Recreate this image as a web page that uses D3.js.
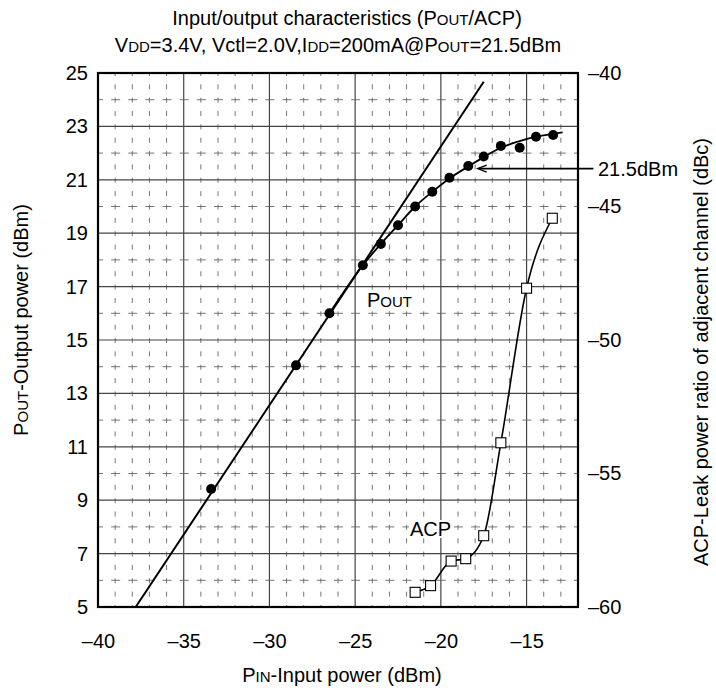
<!DOCTYPE html>
<html>
<head>
<meta charset="utf-8">
<script src="https://cdn.jsdelivr.net/npm/d3@7"></script>
<style>
  html, body { margin: 0; padding: 0; background: #fff; }
  svg { display: block; }
  text { font-family: "Liberation Sans", Arial, Helvetica, sans-serif; fill: #000; }
</style>
</head>
<body>
<svg id="chart" width="716" height="690"></svg>
<script>
// ---- data ----
const pinTicks = [-40, -35, -30, -25, -20, -15];
const poutTicks = [5, 7, 9, 11, 13, 15, 17, 19, 21, 23, 25];
const acpTicks = [-60, -55, -50, -45, -40];

// measured POUT points (PIN dBm -> POUT dBm)
const poutPin = [-33.4, -28.45, -26.5, -24.55, -23.5, -22.5, -21.5, -20.5, -19.5, -18.4, -17.5, -16.5, -15.4, -14.45, -13.45];
const poutValues = [9.42, 14.05, 16.0, 17.8, 18.6, 19.3, 20.0, 20.55, 21.08, 21.52, 21.87, 22.27, 22.2, 22.61, 22.68];

// fitted POUT curve
const poutFitPin = [-26.5, -24.55, -23.5, -22.5, -21.5, -20.5, -19.5, -18.4, -17.5, -16.5, -15.4, -14.45, -13.45, -12.9];
const poutFitValues = [16.0, 17.8, 18.6, 19.3, 20.0, 20.55, 21.05, 21.5, 21.85, 22.2, 22.45, 22.62, 22.72, 22.78];

// linear-gain reference line
const gainLinePin = [-37.8, -17.5];
const gainLinePout = [5, 24.67];

// measured ACP points (PIN dBm -> ACP dBc)
const acpPin = [-21.5, -20.6, -19.4, -18.55, -17.5, -16.5, -15.0, -13.5];
const acpValues = [-59.45, -59.2, -58.28, -58.19, -57.33, -53.85, -48.06, -45.44];

// 21.5 dBm annotation arrow
const arrowPin = [-11.1, -17.85];
const arrowPout = [21.42, 21.42];

// ---- layout ----
const L = 98, R = 578, T = 73, B = 607;
const svg = d3.select("#chart");
const x = d3.scaleLinear().domain([-40, -12]).range([L, R]);
const yL = d3.scaleLinear().domain([5, 25]).range([B, T]);
const yR = d3.scaleLinear().domain([-60, -40]).range([B, T]);
const dash = v => (v < 0 ? "\u2013" + Math.abs(v) : String(v));

// ---- grid ----
const grid = svg.append("g");
d3.range(-39, -12).forEach(v => {
  const solid = v % 5 === 0;
  grid.append("line")
    .attr("x1", x(v)).attr("x2", x(v)).attr("y1", T).attr("y2", B)
    .attr("stroke", solid ? "#444" : "#666")
    .attr("stroke-width", solid ? 1.2 : 0.9)
    .attr("stroke-dasharray", solid ? null : "5,8.35")
    .attr("stroke-dashoffset", solid ? null : 2);
});
d3.range(6, 25).forEach(v => {
  const solid = v % 2 === 1;
  grid.append("line")
    .attr("x1", L).attr("x2", R).attr("y1", yL(v)).attr("y2", yL(v))
    .attr("stroke", solid ? "#444" : "#666")
    .attr("stroke-width", solid ? 1.2 : 0.9)
    .attr("stroke-dasharray", solid ? null : "9,8.14")
    .attr("stroke-dashoffset", solid ? null : 4);
});

// ---- axes ----
const fs = 20;
const ax1 = svg.append("g").attr("transform", `translate(${L},0)`)
  .call(d3.axisLeft(yL).tickValues(poutTicks).tickSize(0).tickPadding(10).tickFormat(d3.format("d")));
const ax2 = svg.append("g").attr("transform", `translate(${R},0)`)
  .call(d3.axisRight(yR).tickValues(acpTicks).tickSize(0).tickPadding(10).tickFormat(dash));
const ax3 = svg.append("g").attr("transform", `translate(0,${B})`)
  .call(d3.axisBottom(x).tickValues(pinTicks).tickSize(0).tickPadding(27).tickFormat(dash));
[ax1, ax2, ax3].forEach(a => {
  a.select(".domain").remove();
  a.selectAll("text").attr("font-size", fs).attr("font-family", '"Liberation Sans", Arial, sans-serif').attr("fill", "#000");
});

// ---- lines ----
const gainLine = d3.line().x((d, i) => x(gainLinePin[i])).y(d => yL(d));
svg.append("path").datum(gainLinePout).attr("d", gainLine)
  .attr("fill", "none").attr("stroke", "#000").attr("stroke-width", 2);

const fitLine = d3.line().x((d, i) => x(poutFitPin[i])).y(d => yL(d)).curve(d3.curveMonotoneX);
svg.append("path").datum(poutFitValues).attr("d", fitLine)
  .attr("fill", "none").attr("stroke", "#000").attr("stroke-width", 1.8);

const acpLine = d3.line().x((d, i) => x(acpPin[i])).y(d => yR(d)).curve(d3.curveMonotoneX);
svg.append("path").datum(acpValues).attr("d", acpLine)
  .attr("fill", "none").attr("stroke", "#000").attr("stroke-width", 1.6);

// ---- markers ----
svg.append("g").selectAll("circle").data(poutValues).join("circle")
  .attr("cx", (d, i) => x(poutPin[i])).attr("cy", d => yL(d)).attr("r", 5).attr("fill", "#000");

const sq = 10;
svg.append("g").selectAll("rect").data(acpValues).join("rect")
  .attr("x", (d, i) => x(acpPin[i]) - sq / 2).attr("y", d => yR(d) - sq / 2)
  .attr("width", sq).attr("height", sq)
  .attr("fill", "#fff").attr("stroke", "#000").attr("stroke-width", 1.1);

// ---- arrow annotation ----
const ax0 = x(arrowPin[0]), axTip = x(arrowPin[1]), ay = yL(arrowPout[0]);
svg.append("line").attr("x1", ax0).attr("x2", axTip + 1).attr("y1", ay).attr("y2", ay)
  .attr("stroke", "#000").attr("stroke-width", 1.6);
svg.append("path").attr("d", `M${axTip + 9},${ay - 3.5} L${axTip},${ay} L${axTip + 9},${ay + 3.5}`)
  .attr("fill", "none").attr("stroke", "#000").attr("stroke-width", 1.3);
svg.append("text").attr("x", 598).attr("y", ay + 7).attr("font-size", fs).text("21.5dBm");

// ---- in-plot labels (white background) ----
function label(xp, yp, parts) {
  const t = svg.append("text").attr("x", xp).attr("y", yp).attr("font-size", fs);
  parts.forEach(p => t.append("tspan").attr("font-size", p[1]).text(p[0]));
  const bb = t.node().getBBox();
  svg.insert("rect", function () { return t.node(); })
    .attr("x", bb.x - 1).attr("y", bb.y + 2).attr("width", bb.width + 2).attr("height", bb.height - 4)
    .attr("fill", "#fff");
}
label(367, 307, [["P", 20], ["OUT", 15]]);
label(410, 536, [["ACP", 20]]);

// ---- frame ----
svg.append("rect").attr("x", L).attr("y", T).attr("width", R - L).attr("height", B - T)
  .attr("fill", "none").attr("stroke", "#000").attr("stroke-width", 2.2);

// ---- titles ----
const t1 = svg.append("text").attr("x", 347).attr("y", 25).attr("text-anchor", "middle").attr("font-size", fs);
[["Input/output characteristics (P", 20], ["OUT", 15], ["/ACP)", 20]].forEach(p => t1.append("tspan").attr("font-size", p[1]).text(p[0]));
const t2 = svg.append("text").attr("x", 338).attr("y", 52).attr("text-anchor", "middle").attr("font-size", fs);
[["V", 20], ["DD", 15], ["=3.4V, Vctl=2.0V,I", 20], ["DD", 15], ["=200mA@P", 20], ["OUT", 15], ["=21.5dBm", 20]]
  .forEach(p => t2.append("tspan").attr("font-size", p[1]).text(p[0]));

const xl = svg.append("text").attr("x", 342).attr("y", 682).attr("text-anchor", "middle").attr("font-size", fs);
[["P", 20], ["IN", 15], ["-Input power (dBm)", 20]].forEach(p => xl.append("tspan").attr("font-size", p[1]).text(p[0]));

const yl = svg.append("text").attr("transform", "translate(28,320) rotate(-90)").attr("text-anchor", "middle").attr("font-size", fs);
[["P", 20], ["OUT", 15], ["-Output power (dBm)", 20]].forEach(p => yl.append("tspan").attr("font-size", p[1]).text(p[0]));

svg.append("text").attr("transform", "translate(708,352) rotate(-90)").attr("text-anchor", "middle").attr("font-size", fs)
  .text("ACP-Leak power ratio of adjacent channel (dBc)");
</script>
</body>
</html>
